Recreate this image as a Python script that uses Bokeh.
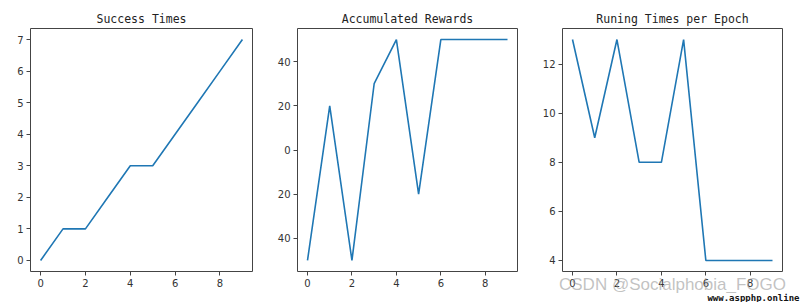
from bokeh.plotting import figure
from bokeh.layouts import row
from bokeh.models import Range1d, FixedTicker, Title
from bokeh.embed import file_html
from bokeh.resources import INLINE

epochs = [0, 1, 2, 3, 4, 5, 6, 7, 8, 9]
success_times = [0, 1, 1, 2, 3, 3, 4, 5, 6, 7]
accumulated_rewards = [-50, 20, -50, 30, 50, -20, 50, 50, 50, 50]
running_times = [13, 9, 13, 8, 8, 13, 4, 4, 4, 4]

titles = ["Success Times", "Accumulated Rewards", "Runing Times per Epoch"]
x_ticks = [0, 2, 4, 6, 8]
y_ticks_1 = [0, 1, 2, 3, 4, 5, 6, 7]
y_ticks_2 = [-40, -20, 0, 20, 40]
y_ticks_2_labels = {-40: "40", -20: "20", 0: "0", 20: "20", 40: "40"}
y_ticks_3 = [4, 6, 8, 10, 12]
watermark = "CSDN @Socialphobia_FOGO"
site_mark = "www.aspphp.online"

LINE = "#1f77b4"
TXT = "#333333"


def margin_range(vals):
    lo, hi = min(vals), max(vals)
    pad = (hi - lo) * 0.05
    return Range1d(lo - pad, hi + pad)


def make(title, ys, yticks, left, right, fw, overrides=None):
    p = figure(width=left + fw + right, height=302, frame_width=fw, frame_height=243,
               min_border_left=left, min_border_right=right, min_border_top=28,
               min_border_bottom=31, output_backend="svg", toolbar_location=None,
               x_range=margin_range(epochs), y_range=margin_range(ys))
    p.title.text = title
    p.title.align = "center"
    p.title.text_font = "DejaVu Sans Mono"
    p.title.text_font_size = "11.5px"
    p.title.text_font_style = "normal"
    p.title.text_color = "#222222"
    p.title.standoff = 5
    p.grid.visible = False
    p.outline_line_color = "#444444"
    p.outline_line_width = 1
    p.background_fill_color = "white"
    p.border_fill_color = "white"
    for ax in (p.xaxis[0], p.yaxis[0]):
        ax.axis_line_color = None
        ax.major_tick_out = 4
        ax.major_tick_in = 0
        ax.minor_tick_line_color = None
        ax.major_tick_line_color = "#444444"
        ax.major_label_text_font = "DejaVu Sans"
        ax.major_label_text_font_size = "10px"
        ax.major_label_text_color = TXT
        ax.major_label_standoff = 3
    p.xaxis.ticker = FixedTicker(ticks=x_ticks)
    p.yaxis.ticker = FixedTicker(ticks=yticks)
    if overrides:
        p.yaxis.major_label_overrides = overrides
    p.line(epochs, ys, line_color=LINE, line_width=1.6)
    return p


p1 = make(titles[0], success_times, y_ticks_1, 30, 10, 222)
p2 = make(titles[1], accumulated_rewards, y_ticks_2, 35, 10, 220, y_ticks_2_labels)
p3 = make(titles[2], running_times, y_ticks_3, 35, 18, 220)

# watermark drawn as the x axis label of the last panel, pulled up over the tick labels
ax3 = p3.xaxis[0]
ax3.axis_label = watermark
ax3.axis_label_text_font = "Liberation Sans"
ax3.axis_label_text_font_size = "17px"
ax3.axis_label_text_font_style = "normal"
ax3.axis_label_text_color = "#999999"
ax3.axis_label_text_alpha = 0.6
ax3.axis_label_standoff = -15

site = Title(text=site_mark, align="right", text_font="DejaVu Sans Mono",
             text_font_size="9px", text_font_style="bold", text_color="#111111",
             background_fill_color="white", standoff=-13, offset=-17)
p3.add_layout(site, "below")

layout = row(p1, p2, p3)
open("out.html", "w").write(file_html(layout, INLINE))
